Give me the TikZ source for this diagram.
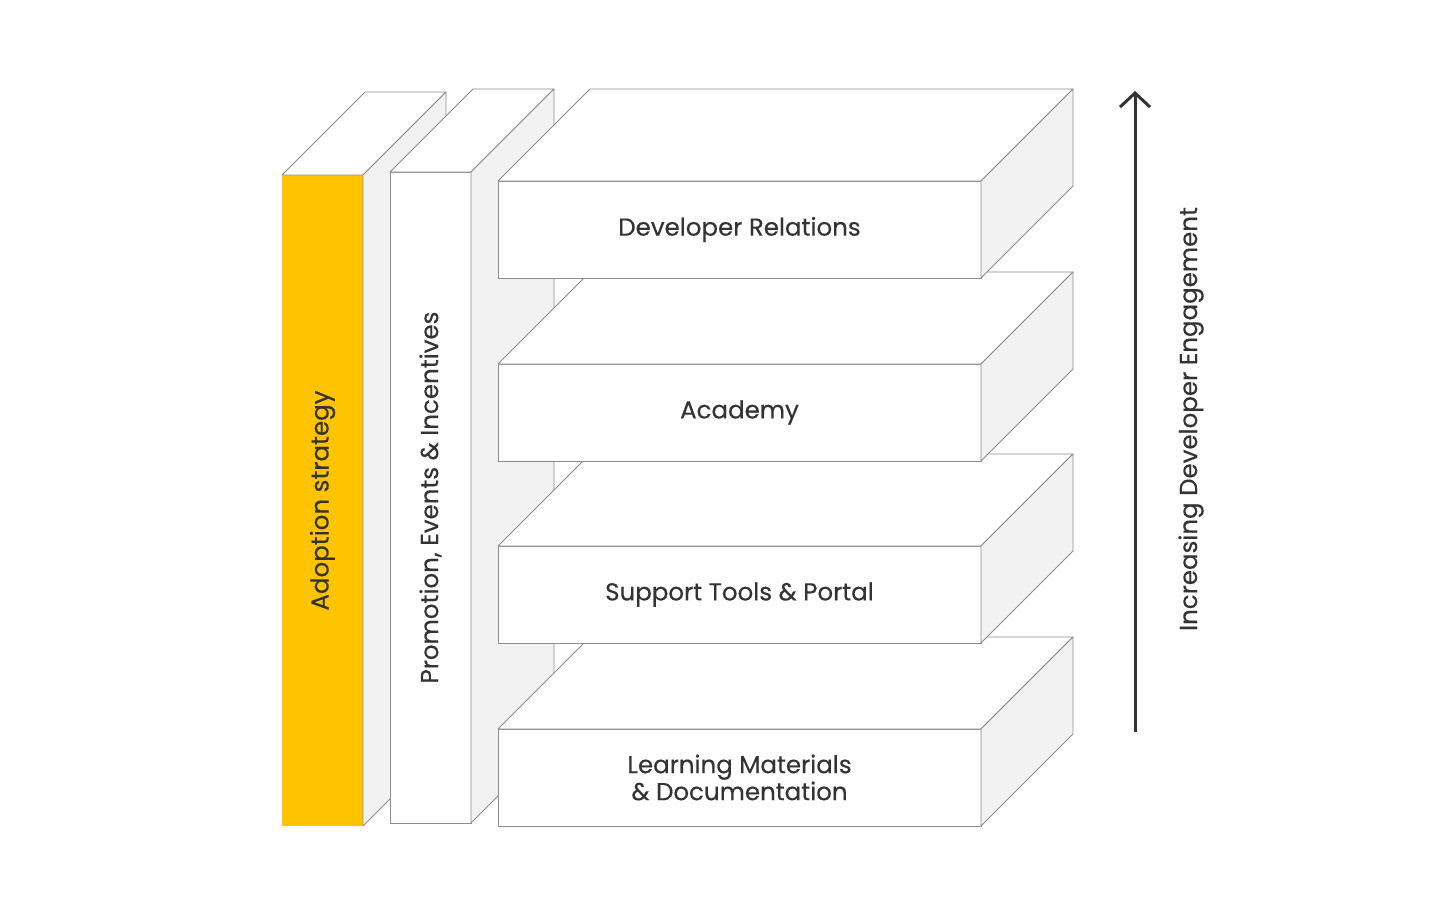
\documentclass[tikz,border=0pt]{standalone}
\usepackage{fontspec}
\setmainfont{Poppins}[FakeBold=0.35]
\usetikzlibrary{arrows.meta}
\definecolor{ink}{HTML}{333333}
\definecolor{edge}{HTML}{8C8C8C}
\definecolor{sideg}{HTML}{F2F2F2}
\definecolor{gold}{HTML}{FFC400}
\begin{document}
\begin{tikzpicture}[x=1pt,y=-1pt,
  face/.style={draw=edge,line width=0.8pt,line join=round},
  topface/.style={face,fill=white},
  sideface/.style={face,fill=sideg},
  front/.style={rectangle,inner sep=0pt,outer sep=0pt,anchor=north west},
  colfront/.style={front,minimum width=81pt,minimum height=651pt},
  slabfront/.style={front,draw=edge,line width=0.8pt,fill=white,minimum width=483pt,minimum height=97pt},
  lbl/.style={text=ink,font=\fontsize{24.5}{28}\selectfont,align=center,inner sep=0pt}]
\useasboundingbox[fill=white] (0,0) rectangle (1440,900);

% column 1 : Adoption strategy
\node[colfront,fill=gold] (c1) at (282,175) {};
\draw[topface] (c1.north west) -- ++(83,-83) -- ++(81,0) -- (c1.north east) -- cycle;
\draw[sideface] (c1.north east) -- ++(83,-83) -- ++(0,651) -- (c1.south east) -- cycle;
\node[lbl,rotate=90] (l1) at (c1.center) {Adoption strategy};

% column 2 : Promotion
\node[colfront,draw=edge,line width=0.8pt,fill=white] (c2) at (390,172) {};
\draw[topface] (c2.north west) -- ++(83,-83) -- ++(81,0) -- (c2.north east) -- cycle;
\draw[sideface] (c2.north east) -- ++(83,-83) -- ++(0,651) -- (c2.south east) -- cycle;
\node[lbl,rotate=90] (l2) at (c2.center) {Promotion, Events \& Incentives};

% slabs, bottom first
\foreach \name/\y/\txt in {s4/729/{Learning Materials\\[-1pt]\& Documentation},
                           s3/546/{Support Tools \& Portal},
                           s2/364/{Academy},
                           s1/181/{Developer Relations}}{
  \node[slabfront] (\name) at (498,\y) {};
  \draw[topface] (\name.north west) -- ++(92,-92) -- ++(483,0) -- (\name.north east) -- cycle;
  \draw[sideface] (\name.north east) -- ++(92,-92) -- ++(0,97) -- (\name.south east) -- cycle;
  \node[lbl] (\name t) at (\name.center) {\txt};
}

% arrow
\coordinate (abot) at (1135,732);
\coordinate (atop) at (1135,91);
\draw[ink,line width=3pt,-{Straight Barb[length=14pt,width=30pt]}] (abot) -- (atop);
\node[lbl,rotate=90] (al) at (1191,419) {Increasing Developer Engagement};
\end{tikzpicture}
\end{document}
